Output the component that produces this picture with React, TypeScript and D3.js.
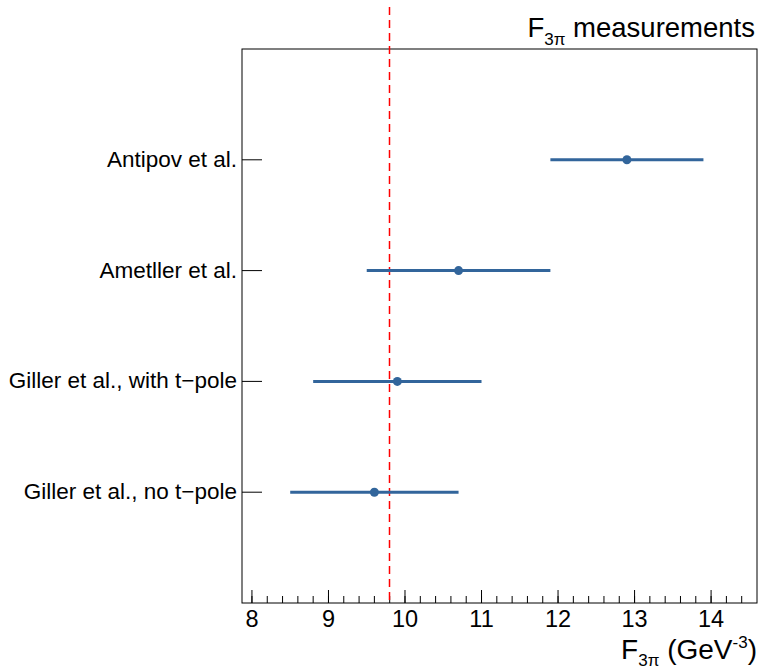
import React from "react";
import * as d3 from "d3";

const labels = ["Antipov et al.", "Ametller et al.", "Giller et al., with t\u2212pole", "Giller et al., no t\u2212pole"];
const positions = [4, 3, 2, 1];
const values = [12.9, 10.7, 9.9, 9.6];
const errors = [1.0, 1.2, 1.1, 1.1];
const referenceValue = 9.8;
const xTicks = [8, 9, 10, 11, 12, 13, 14];

const W = 761;
const H = 669;
const frame = { left: 242, right: 757, top: 49, bottom: 603 };
const font = "Liberation Sans, Arial, Helvetica, sans-serif";
const blue = "#32659b";

export default function App() {
  const x = d3.scaleLinear().domain([7.87, 14.6]).range([frame.left, frame.right]);
  const y = d3.scaleLinear().domain([0, 5]).range([frame.bottom, frame.top]);
  const minor = d3.range(7.8, 14.61, 0.2).filter((v) => v >= 7.87 && v <= 14.6);
  const refX = Math.round(x(referenceValue)) - 0.5;

  return (
    <svg width={W} height={H} style={{ position: "absolute", left: 0, top: 0, background: "#fff" }}>
      <rect x={0} y={0} width={W} height={H} fill="#fff" />
      {/* frame */}
      <rect x={frame.left} y={frame.top} width={frame.right - frame.left} height={frame.bottom - frame.top}
        fill="none" stroke="#000" strokeWidth={1} />
      {/* x axis ticks */}
      {minor.map((v, i) => (
        <line key={"m" + i} x1={x(v)} x2={x(v)} y1={frame.bottom} y2={frame.bottom - 7} stroke="#000" />
      ))}
      {xTicks.map((v) => (
        <g key={v}>
          <line x1={x(v)} x2={x(v)} y1={frame.bottom} y2={frame.bottom - 13} stroke="#000" />
          <text x={x(v)} y={627} textAnchor="middle" fontFamily={font} fontSize={23.5}>{v}</text>
        </g>
      ))}
      {/* y category ticks and labels */}
      {labels.map((l, i) => (
        <g key={l}>
          <line x1={frame.left} x2={frame.left + 20} y1={y(positions[i])} y2={y(positions[i])} stroke="#000" />
          <text x={237} y={y(positions[i]) + 7} textAnchor="end" fontFamily={font} fontSize={22.5}>{l}</text>
        </g>
      ))}
      {/* reference line */}
      <line x1={refX} x2={refX} y1={7} y2={frame.bottom} stroke="#ff0000"
        strokeWidth={1.5} strokeDasharray="8,5" />
      {/* measurements */}
      {values.map((v, i) => (
        <g key={"p" + i}>
          <line x1={x(v - errors[i])} x2={x(v + errors[i])} y1={y(positions[i])} y2={y(positions[i])}
            stroke={blue} strokeWidth={3} />
          <circle cx={x(v)} cy={y(positions[i])} r={4.5} fill={blue} />
        </g>
      ))}
      {/* title */}
      <text x={755} y={37} textAnchor="end" fontFamily={font} fontSize={27.5}>
        F<tspan fontSize={17} dy={8}>3π</tspan><tspan dy={-8}> measurements</tspan>
      </text>
      {/* x axis title */}
      <text x={757} y={659} textAnchor="end" fontFamily={font} fontSize={28}>
        F<tspan fontSize={17} dy={7}>3π</tspan><tspan dy={-7}> (GeV</tspan><tspan fontSize={17} dy={-11}>-3</tspan><tspan dy={11}>)</tspan>
      </text>
    </svg>
  );
}
